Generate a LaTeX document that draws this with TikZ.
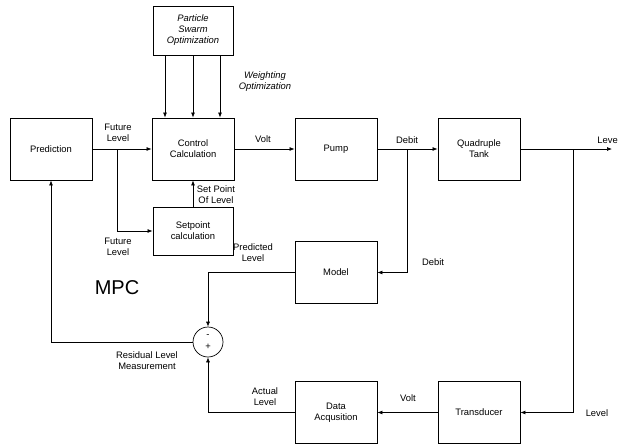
\documentclass[tikz,border=0pt]{standalone}
\usepackage{fontspec}
\setmainfont{Liberation Sans}
\usetikzlibrary{arrows.meta}

\begin{document}
\begin{tikzpicture}[x=1pt,y=-1pt,font=\fontsize{9.4}{11}\selectfont,
    >={Latex[length=5pt,width=4pt]},line width=0.7pt]

      \useasboundingbox (0,0) rectangle (618,444);

      \begin{scope}[every node/.style={draw,line width=0.9pt,align=center,
          minimum width=82pt,minimum height=62pt,inner sep=2pt}]
        \node (pred) at (51,149) {Prediction};
        \node (ctrl) at (193,149) {Control\\Calculation};
        \node (pump) at (336,149) {Pump};
        \node (tank) at (479,149) {Quadruple\\Tank};
        \node (model) at (336,272.5) {Model};
        \node (daq) at (336,412.5) {Data\\Acqusition};
        \node (trans) at (479,412.5) {Transducer};
        \node[minimum width=80pt,minimum height=49pt,font=\fontsize{9.4}{11}\selectfont\itshape] (pso) at (193,30.5) {Particle\\Swarm\\Optimization};
        \node[minimum width=80pt,minimum height=48pt] (setp) at (193,231) {Setpoint\\calculation};
      \end{scope}

      \node[draw,circle,minimum size=30pt,inner sep=0pt] (sum) at (208,342) {};
      \node (minus) at (208,336) {-};
      \node (plus) at (208,347) {+};

      \coordinate (fsplit) at (117,149);
      \coordinate (dsplit) at (407,149);
      \coordinate (lsplit) at (573,149);
      \coordinate (out) at (612,149);

      \begin{scope}[every node/.style={align=center}]
        \node (futa) at (118,133) {Future\\Level};
        \node (futb) at (118,247) {Future\\Level};
        \node (spl) at (216,195) {Set Point\\Of Level};
        \node[font=\fontsize{9.4}{11}\selectfont\itshape] (wopt) at (265,82) {Weighting\\Optimization};
        \node (volta) at (263,139) {Volt};
        \node (debita) at (407,140) {Debit};
        \node (debitb) at (433,262) {Debit};
        \node[anchor=west,inner sep=0pt] (levela) at (597,140) {Level};
        \node (levelb) at (597,413) {Level};
        \node (voltb) at (408,398) {Volt};
        \node (act) at (265,397) {Actual\\Level};
        \node (predl) at (253,253) {Predicted\\Level};
        \node (resid) at (147,361) {Residual Level\\Measurement};
        \node[font=\fontsize{20}{24}\selectfont] (mpc) at (117,288) {MPC};
      \end{scope}

      \foreach \dx in {-28,0,27}
        \draw[->] ([xshift=\dx pt]pso.south) -- ([xshift=\dx pt]pso.south |- ctrl.north);

      \draw[->] (pred) -- (ctrl);
      \draw[->] (fsplit) |- (setp.west);
      \draw[->] (setp) -- (ctrl);
      \draw[->] (ctrl) -- (pump);
      \draw[->] (pump) -- (tank);
      \draw[->] (dsplit) |- (model.east);
      \draw[->] (tank) -- (out);
      \draw[->] (lsplit) |- (trans.east);
      \draw[->] (trans) -- (daq);
      \draw[->] (daq.west) -| (sum.south);
      \draw[->] (model.west) -| (sum.north);
      \draw[->] (sum.west) -| (pred.south);

    \end{tikzpicture}
\end{document}
